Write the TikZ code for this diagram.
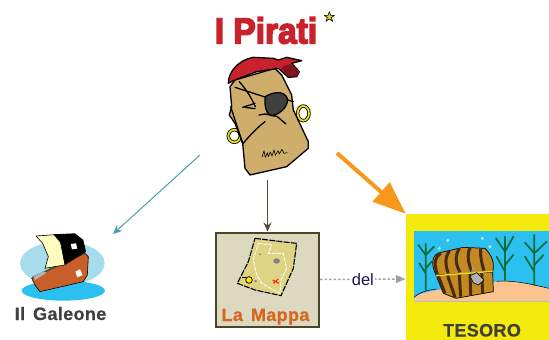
\documentclass[tikz,border=0pt]{standalone}
\usepackage{fontspec}
\setmainfont{Liberation Sans}
\newfontfamily\titlefont[FakeBold=4.5]{Liberation Sans Bold}
\newfontfamily\labelfont[FakeBold=0.5,WordSpace=1.5,LetterSpace=2]{Liberation Sans Bold}
\usetikzlibrary{arrows.meta}
\definecolor{pirred}{HTML}{C9222D}
\definecolor{skin}{HTML}{CFAE6C}
\definecolor{lblue}{HTML}{A6DCEC}
\definecolor{sea}{HTML}{2CC0F0}
\definecolor{hull}{HTML}{C95F28}
\definecolor{orangearrow}{HTML}{F7981D}
\definecolor{boxfill}{HTML}{DDD8C0}
\definecolor{boxline}{HTML}{4A4428}
\definecolor{paper}{HTML}{DFD384}
\definecolor{yel}{HTML}{F4EA0C}
\definecolor{sand}{HTML}{FBC48E}
\definecolor{weed}{HTML}{0B6B3A}
\definecolor{wood}{HTML}{C48A22}
\definecolor{dwood}{HTML}{4A2A10}
\tikzset{
  ink/.style={draw=black,line width=1.3pt,line join=round,line cap=round},
  lbl/.style={font=\labelfont\fontsize{18}{19}\selectfont,inner sep=0pt},
  zoomed/.style={line join=round},
  weedline/.style={draw=weed,line width=1.7pt,line cap=round},
}
\begin{document}
\begin{tikzpicture}[x=1pt,y=-1pt]
\useasboundingbox (0,0) rectangle (549,340);
\clip (0,0) rectangle (549,340);

% title
\node (title) [font=\titlefont\fontsize{36}{37}\selectfont,text=pirred,xscale=0.93,inner sep=0pt] at (266,30.5) {I Pirati};
\node (pirate) [minimum width=120pt,minimum height=125pt,inner sep=0pt] at (263,117.5) {};
\node (galeone) [minimum width=100pt,minimum height=70pt,inner sep=0pt] at (63,268) {};
\node (mappa) [draw=boxline,line width=2pt,fill=boxfill,minimum width=103pt,minimum height=94pt,inner sep=0pt] at (267.5,279.5) {};
\node (tesoro) [fill=yel,minimum width=150pt,minimum height=130pt,inner sep=0pt] at (481,279) {};
\coordinate (pirateL) at (200,155);
\coordinate (galeoneT) at (113,234);
\coordinate (pirateR) at (337,153);

% pirate head
\begin{scope}[shift={(190,0)},scale=1/3,zoomed]
  \draw[fill=yellow!85!black,draw=black,line width=0.6pt] (418,35) -- ++(4,11) -- ++(11,0) -- ++(-9,7) -- ++(4,11) -- ++(-10,-7) -- ++(-10,7) -- ++(4,-11) -- ++(-9,-7) -- ++(11,0) -- cycle;
  % earrings
  \draw[draw=black,line width=3.4pt] (340,340) ellipse (17 and 22);
  \draw[draw=yellow!90!black,line width=1.8pt] (340,340) ellipse (17 and 22);
  \draw[draw=black,line width=3.4pt] (133,408) ellipse (18 and 19);
  \draw[draw=yellow!90!black,line width=1.8pt] (133,408) ellipse (18 and 19);
  % face
  \draw[ink,fill=skin] (135,240) -- (255,205) -- (275,225) -- (305,285) -- (310,330) -- (355,425) -- (355,445) -- (290,500) -- (180,525) -- (165,505) -- (158,430) -- (135,370) -- (118,345) -- (125,320) -- (120,260) -- cycle;
  % bandana
  \draw[ink,fill=pirred] (115,250) .. controls (115,215) and (145,180) .. (190,172) -- (250,175) -- (265,180) -- (290,172) -- (335,182) -- (305,190) -- (328,215) -- (320,230) -- (295,232) -- (265,205) -- (200,215) -- (135,240) -- cycle;
  \fill[pirred!65!black] (285,196) -- (305,192) -- (328,215) -- (320,229) -- (296,230) -- (270,208) -- cycle;
  % creases
  \draw[ink] (148,245) .. controls (170,270) and (185,295) .. (196,320);
  \draw[ink] (135,262) -- (228,292);
  \draw[ink] (288,298) -- (310,305);
  \draw[ink] (122,320) -- (158,430);
  \draw[ink] (158,432) .. controls (180,405) and (205,380) .. (225,365);
  % patch
  \draw[ink,fill=black!75] (226,290) .. controls (245,278) and (280,268) .. (292,295) .. controls (297,318) and (268,345) .. (245,347) .. controls (230,345) and (222,320) .. (226,290) -- cycle;
  % eye, frown
  \draw[ink] (158,322) -- (195,310);
  \draw[ink] (165,322) -- (195,326);
  \draw[ink] (207,345) -- (225,342) -- (262,350) -- (288,372);
  % scribble
  \draw[black,line width=0.6pt] (216,472) -- (222,452) -- (226,472) -- (232,458) -- (235,470) -- (241,456) -- (246,468) -- (252,450) -- (256,466) -- (264,452) -- (268,462) -- (276,448) -- (282,460) -- (292,458);
\end{scope}

% galleon
\begin{scope}[shift={(0,200)},scale=1/3,zoomed]
  \fill[lblue] (187,190) ellipse (127 and 66);
  \fill[sea] (190,272) ellipse (125 and 30);
  \draw[black,line width=0.6pt,fill=hull] (95,235) -- (130,218) -- (255,160) -- (265,170) -- (262,225) -- (250,245) -- (120,275) -- (105,255) -- cycle;
  \draw[black!70,line width=1.4pt] (98,232) -- (255,158);
  \fill[gray!60] (100,230) -- (130,214) -- (140,218) -- (106,240) -- cycle;
  \draw[black,line width=0.6pt,fill=yellow!25!white] (108,108) -- (165,104) -- (180,120) -- (195,195) -- (145,203) -- (135,205) -- (145,170) -- (128,130) -- cycle;
  \fill[black] (160,103) -- (225,100) -- (250,120) -- (258,155) -- (195,195) -- (183,130) -- cycle;
  \fill[white] (212,132) -- (228,130) -- (232,146) -- (216,148) -- cycle;
  \fill[white] (226,215) -- (240,208) -- (248,225) -- (232,232) -- cycle;
\end{scope}
\node (galeonelabel) [lbl,text=black!75,anchor=base] at (60.5,320) {Il Galeone};

% map
\begin{scope}[shift={(205,225)},scale=1/3,zoomed]
  \draw[black,line width=1.1pt,dash pattern=on 6pt off 1.2pt,fill=paper] (150,40) -- (230,50) -- (275,55) -- (265,130) -- (228,212) -- (150,195) -- (97,175) -- (130,110) -- cycle;
  \draw[white,line width=0.9pt,dash pattern=on 4pt off 1.2pt] (160,55) -- (200,60) -- (190,85) -- (235,85) -- (245,130) -- (228,165) -- (225,205) -- (170,175) -- (155,150) -- (145,105) -- cycle;
  \fill[gray] (215,108) ellipse (10 and 8);
  \fill[gray] (165,88) circle (3);
  \draw[red!75!orange,line width=1.1pt] (203,165) -- (222,175) (205,175) -- (220,162);
  \draw[black,fill=yellow!95!black,line width=0.7pt] (132,165) circle (10);
  \fill[blue!40!black] (110,155) rectangle (122,160);
  \fill[gray] (152,168) circle (4);
\end{scope}
\node (mappalabel) [lbl,text=hull!75!orange,anchor=base] at (265.5,321) {La Mappa};

% treasure
\begin{scope}[shift={(330,140)},scale=1/3,zoomed]
  \fill[sea] (252,273) rectangle (657,485);
  \fill[sand] (252,485) -- (252,472) .. controls (290,445) and (420,440) .. (500,424) .. controls (560,420) and (610,435) .. (657,445) -- (657,485) -- cycle;
  \draw[black,line width=0.5pt] (252,472) .. controls (275,452) and (300,450) .. (320,447);
  \draw[black,line width=0.5pt] (500,424) .. controls (560,420) and (610,435) .. (657,445);
  % seaweed
  \draw[weedline] (287,312) -- (287,450) (287,345) -- (265,315) (287,345) -- (312,320) (287,400) -- (268,370) (287,385) -- (305,365);
  \draw[weedline] (525,290) -- (525,420) (525,335) -- (498,295) (525,335) -- (550,290) (525,395) -- (500,350) (525,375) -- (550,345);
  \draw[weedline] (613,285) -- (613,435) (613,340) -- (585,308) (613,340) -- (650,305) (613,395) -- (585,350) (613,375) -- (640,345);
  % bubbles
  \foreach \bx/\by/\br in {353/301/5,328/325/5,457/295/5,480/320/5,336/366/4,475/360/3}{\fill[lblue!70!white] (\bx,\by) circle (\br);}
  % chest body
  \draw[black,line width=0.7pt,fill=wood] (318,405) -- (340,460) -- (378,475) -- (490,455) -- (488,396) -- cycle;
  \foreach \px/\py/\qx/\qy in {325/408/345/460,352/404/375/472,388/402/392/470,420/400/422/465,455/398/458/460}{
    \draw[dwood,line width=3pt] (\px,\py) -- (\qx,\qy);
  }
  % chest lid
  \draw[black,line width=0.7pt,fill=wood] (318,405) .. controls (300,370) and (308,342) .. (330,338) -- (400,322) -- (465,325) .. controls (485,345) and (495,370) .. (488,396) -- cycle;
  \draw[dwood,line width=3pt] (322,402) .. controls (310,370) and (315,350) .. (332,340);
  \draw[dwood,line width=3pt] (355,400) .. controls (345,375) and (345,350) .. (358,333);
  \draw[dwood,line width=3pt] (390,397) .. controls (375,370) and (375,345) .. (388,326);
  \draw[dwood,line width=3pt] (425,394) .. controls (415,370) and (410,345) .. (420,324);
  \draw[dwood,line width=3pt] (462,392) .. controls (455,370) and (450,345) .. (452,325);
  \draw[yellow!90!black,line width=1.4pt] (318,407) -- (488,394);
  \draw[yellow!20!gray,line width=1pt] (425,405) -- (428,380) -- (442,400);
  \draw[black,line width=0.6pt,fill=black!30] (420,408) -- (440,398) -- (462,420) -- (445,435) -- (430,428) -- cycle;
\end{scope}
\node (tesorolabel) [lbl,text=black!75,anchor=base] at (482,336.5) {TESORO};

% connectors
\draw[draw=lblue!40!teal!85!gray,line width=1pt,-{Stealth[length=9pt,width=8pt]}] (pirateL) -- (galeoneT);
\draw[draw=boxline!85!gray,line width=1pt,-{Stealth[length=9pt,width=8pt]}] (pirate.south -| mappa.north) -- (mappa.north);
\draw[draw=gray!70,line width=1.5pt,dash pattern=on 2.5pt off 2pt,-{Stealth[length=10pt,width=8pt,fill=gray!80,inset=0pt]}] (mappa.east) -- node[fill=white,inner sep=1.5pt,text=black!70!blue!80!gray,font=\fontsize{16.5}{17}\selectfont,yshift=-0.5pt] (dellabel) {del} (tesoro.west);
\draw[draw=orangearrow,line width=4pt,-{Triangle[length=33pt,width=25pt,inset=0pt,fill=orangearrow]}] (pirateR) -- (tesoro.north west);
\end{tikzpicture}
\end{document}
